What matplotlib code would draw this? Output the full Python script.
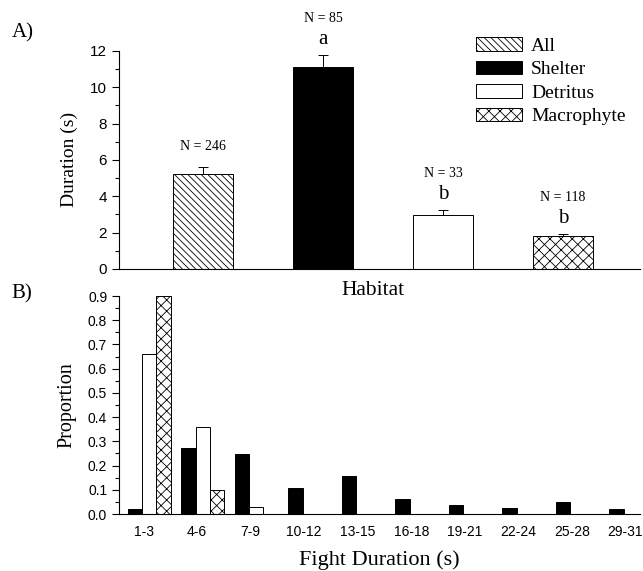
import matplotlib
matplotlib.use('Agg')
import matplotlib.pyplot as plt
from matplotlib.patches import Patch
from matplotlib.ticker import MultipleLocator, FormatStrFormatter
import numpy as np

# panel A: mean fight duration by habitat
habitats = ['All', 'Shelter', 'Detritus', 'Macrophyte']
mean_dur = [5.25, 11.1, 2.95, 1.82]
se_dur = [0.38, 0.65, 0.3, 0.08]
n_labels = ['N = 246', 'N = 85', 'N = 33', 'N = 118']
letters = ['', 'a', 'b', 'b']

# panel B: proportion of fights per duration class
bins = ['1-3', '4-6', '7-9', '10-12', '13-15', '16-18', '19-21', '22-24', '25-28', '29-31']
shelter = [0.022, 0.274, 0.249, 0.106, 0.156, 0.061, 0.036, 0.025, 0.05, 0.022]
detritus = [0.66, 0.36, 0.03, 0, 0, 0, 0, 0, 0, 0]
macrophyte = [0.9, 0.1, 0, 0, 0, 0, 0, 0, 0, 0]

plt.rcParams['hatch.linewidth'] = 0.6
serif = 'Liberation Serif'
sans = 'Liberation Sans'

styles = {
  'All': dict(facecolor='white', hatch='\\\\\\\\\\'),
  'Shelter': dict(facecolor='black'),
  'Detritus': dict(facecolor='white'),
  'Macrophyte': dict(facecolor='white', hatch='xxx'),
}

fig = plt.figure(figsize=(6.43, 5.71), dpi=100)
axA = fig.add_axes([0.185, 0.529, 0.81, 0.382])
axB = fig.add_axes([0.185, 0.0998, 0.81, 0.3818])

for ax in (axA, axB):
  ax.spines['top'].set_visible(False)
  ax.spines['right'].set_visible(False)
  ax.tick_params(axis='x', length=0)
  ax.tick_params(axis='y', which='major', length=5, width=0.8, direction='out')
  ax.tick_params(axis='y', which='minor', length=3, width=0.8, direction='out')

# --- panel A
x = np.arange(1, len(habitats)+1)
for xi, h, m, s in zip(x, habitats, mean_dur, se_dur):
  axA.bar(xi, m, width=0.5, edgecolor='black', linewidth=0.7, **styles[h])
  axA.errorbar(xi, m, yerr=[[0], [s]], fmt='none', ecolor='black', elinewidth=0.7, capsize=3.5, capthick=0.7)

for xi, m, s, nl, let in zip(x, mean_dur, se_dur, n_labels, letters):
  top = m + s
  if let:
    axA.text(xi, top+0.35, let, ha='center', va='bottom', fontsize=15, family=serif)
    axA.text(xi, top+1.65, nl, ha='center', va='bottom', fontsize=10, family=serif, clip_on=False)
  else:
    axA.text(xi, top+0.75, nl, ha='center', va='bottom', fontsize=10, family=serif)

axA.set_xlim(0.3, 4.64)
axA.set_ylim(0, 12)
axA.set_xticks([])
axA.yaxis.set_major_locator(MultipleLocator(2))
axA.yaxis.set_minor_locator(MultipleLocator(1))
for lab in axA.get_yticklabels():
  lab.set_family(sans)
  lab.set_fontsize(11)
axA.set_ylabel('Duration (s)', family=serif, fontsize=14, labelpad=9)
axA.set_xlabel('Habitat', family=serif, fontsize=15.5)
axA.xaxis.set_label_coords(0.487, -0.055, transform=axA.transAxes)
axA.xaxis.label.set_va('top')

handles = [Patch(edgecolor='black', linewidth=0.7, **styles[h]) for h in habitats]
axA.legend(handles, habitats, loc='upper left', bbox_to_anchor=(0.685, 1.062), frameon=False,
           prop={'family': serif, 'size': 14}, handlelength=2.4, handleheight=0.7,
           handletextpad=0.45, labelspacing=0.3, borderpad=0, borderaxespad=0)

# --- panel B
xb = np.arange(1, len(bins)+1)
w = 0.27
axB.bar(xb - w/2, shelter, width=w, facecolor='black', edgecolor='black', linewidth=0.7)
axB.bar(xb + w/2, detritus, width=w, facecolor='white', edgecolor='black', linewidth=0.7)
axB.bar(xb + 3*w/2, macrophyte, width=w, facecolor='white', edgecolor='black', linewidth=0.7, hatch='xxx')

axB.set_xlim(0.57, 10.3)
axB.set_ylim(0, 0.9)
axB.set_xticks(xb + 0.03)
axB.set_xticklabels(bins, family=sans, fontsize=10)
axB.tick_params(axis='x', pad=8)
axB.yaxis.set_major_locator(MultipleLocator(0.1))
axB.yaxis.set_minor_locator(MultipleLocator(0.05))
axB.yaxis.set_major_formatter(FormatStrFormatter('%.1f'))
for lab in axB.get_yticklabels():
  lab.set_family(sans)
  lab.set_fontsize(10)
axB.set_ylabel('Proportion', family=serif, fontsize=14.5, labelpad=8)
axB.set_xlabel('Fight Duration (s)', family=serif, fontsize=16, labelpad=8)

fig.text(0.018, 0.942, 'A)', family=serif, fontsize=15, va='center')
fig.text(0.018, 0.485, 'B)', family=serif, fontsize=15, va='center')

fig.savefig('out.png', dpi=100)
